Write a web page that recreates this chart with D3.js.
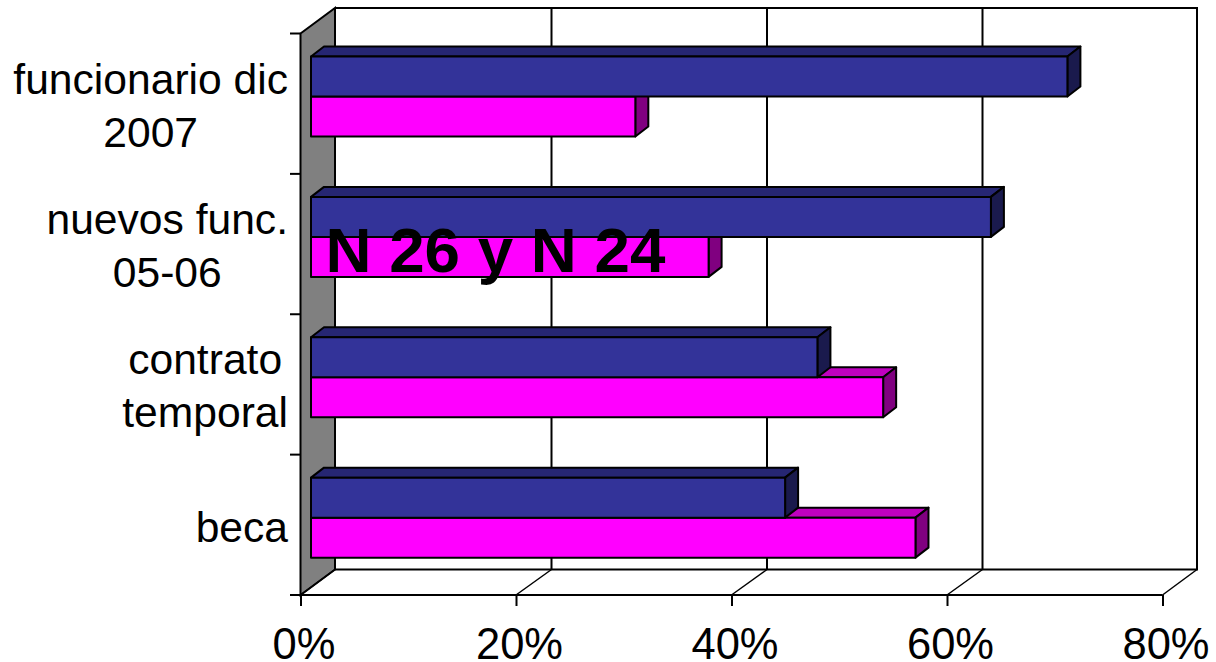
<!DOCTYPE html>
<meta charset="utf-8">
<style>
html, body { margin: 0; padding: 0; background: #fff; }
text { font-family: "Liberation Sans", Arial, sans-serif; fill: #000; }
.line { stroke: #000; stroke-width: 2; fill: none; }
.bar { stroke: #000; stroke-width: 2; stroke-linejoin: round; }
</style>
<body>
<script src="https://d3js.org/d3.v7.min.js"></script>
<script>
// values
var categories = ["funcionario dic|2007", "nuevos func.|05-06", "contrato|temporal", "beca"];
var blueValues = [70.2, 63.1, 47.0, 44.0];
var pinkValues = [30.1, 36.9, 53.1, 56.1];
var xTicks = [0, 20, 40, 60, 80];
var note = "N 26 y N 24";

var svg = d3.select("body").append("svg")
    .attr("width", 1216)
    .attr("height", 662)
    .style("display", "block");

// front edge of the chart box
var x = d3.scaleLinear().domain([0, 80]).range([300.5, 1162.5]);
var y = d3.scaleBand().domain(categories).range([33.5, 595]);

// 3d offsets
var depthX = 34.5, depthY = -25.5; // whole box
var gridShift = 1;                 // inner gridlines sit slightly further right
var barX = 10.5;                   // bars sit a bit inside the box
var faceX = 13, faceY = -10;       // depth of each bar

var backLeft = x(0) + depthX, backRight = x(80) + depthX;
var backTop = 33.5 + depthY, backBottom = 595 + depthY;

// side wall
svg.append("polygon")
    .attr("points", [[x(0), 33.5], [backLeft, backTop], [backLeft, backBottom], [x(0), 595]].join(" "))
    .attr("fill", "#808080")
    .attr("stroke", "#000")
    .attr("stroke-width", 2);

// back wall outline and floor
svg.append("path").attr("class", "line")
    .attr("d", "M" + backLeft + "," + backTop + "H" + backRight + "V" + backBottom + "H" + backLeft);
svg.append("path").attr("class", "line")
    .attr("d", "M" + x(0) + ",595H" + x(80));

// gridlines and floor diagonals
xTicks.forEach(function(t) {
  var inner = t > 0 && t < 80;
  var gx = x(t) + depthX + (inner ? gridShift : 0);
  if (inner) {
    svg.append("line").attr("class", "line")
      .attr("x1", gx).attr("x2", gx)
      .attr("y1", backTop).attr("y2", backBottom);
  }
  svg.append("line").attr("class", "line")
    .attr("stroke-width", 1.5)
    .style("stroke-width", 1.5)
    .attr("x1", x(t)).attr("y1", 595)
    .attr("x2", gx).attr("y2", backBottom);
});

// category ticks
d3.range(categories.length + 1).forEach(function(i) {
  var ty = 33.5 + i * y.step();
  svg.append("line").attr("class", "line")
    .attr("x1", 290).attr("x2", x(0))
    .attr("y1", ty).attr("y2", ty);
});

// x axis
var xAxis = svg.append("g")
    .attr("transform", "translate(0,595)")
    .call(d3.axisBottom(x).tickValues(xTicks).tickSize(11).tickFormat(function(d) { return d + "%"; }));
xAxis.select(".domain").remove();
xAxis.selectAll("line").attr("stroke", "#000").attr("stroke-width", 2);
xAxis.selectAll("text")
    .attr("font-size", 43.5)
    .attr("font-family", "Liberation Sans")
    .attr("fill", "#000")
    .attr("dx", 3)
    .attr("y", 0)
    .attr("dy", 63.5);

// one 3d bar: top and side face behind the front
function drawBar(value, top, h, front, topFace, sideFace) {
  var x0 = x(0) + barX, x1 = x(value) + barX;
  var g = svg.append("g").attr("class", "bar");
  g.append("polygon").attr("fill", topFace)
    .attr("points", [[x0, top], [x0 + faceX, top + faceY], [x1 + faceX, top + faceY], [x1, top]].join(" "));
  g.append("polygon").attr("fill", sideFace)
    .attr("points", [[x1, top], [x1 + faceX, top + faceY], [x1 + faceX, top + h + faceY], [x1, top + h]].join(" "));
  g.append("rect").attr("fill", front)
    .attr("x", x0).attr("y", top)
    .attr("width", x1 - x0).attr("height", h);
}

// pink first, the blue bar covers its top face
categories.forEach(function(c, i) {
  var top = y(c) + 23;
  drawBar(pinkValues[i], top + 40, 40, "#ff00ff", "#bf00bf", "#800080");
  drawBar(blueValues[i], top, 40, "#333399", "#262673", "#1a1a4d");
});

// category labels, lines centred inside a block that ends at x=288
categories.forEach(function(c) {
  var lines = c.split("|");
  var cy = y(c) + y.bandwidth() / 2 + 17 - (lines.length - 1) * 27;
  var texts = lines.map(function(l, j) {
    return svg.append("text")
      .attr("font-size", 42.6)
      .attr("y", cy + j * 53)
      .text(l);
  });
  var widest = d3.max(texts, function(t) { return t.node().getComputedTextLength(); });
  texts.forEach(function(t) {
    t.attr("text-anchor", "middle").attr("x", 288 - widest / 2);
  });
});

// note typed over the bars
svg.append("text")
    .attr("x", 325.5)
    .attr("y", 272)
    .attr("font-size", 63.7)
    .attr("font-weight", "bold")
    .text(note);
</script>
</body>
